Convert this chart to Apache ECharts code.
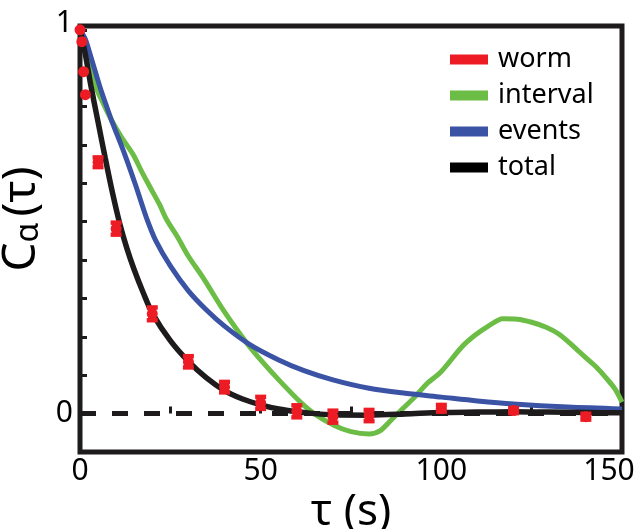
<!DOCTYPE html>
<html>
<head>
<meta charset="utf-8">
<script src="https://cdn.jsdelivr.net/npm/echarts@6/dist/echarts.min.js"></script>
<style>
html,body{margin:0;padding:0;background:#fff;}
#chart{width:638px;height:529px;}
</style>
</head>
<body>
<div id="chart"></div>
<script>
// ---- data ----
const wormT   = [0, 0.5, 1, 1.5, 5, 10, 20, 30, 40, 50, 60, 70, 80, 100, 120, 140];
const wormV   = [1.0, 0.969, 0.891, 0.831, 0.655, 0.482, 0.26, 0.135, 0.069, 0.028, 0.006, -0.008, -0.005, 0.014, 0.008, -0.008];
const wormErr = [0, 0, 0, 0, 0.012, 0.015, 0.016, 0.014, 0.013, 0.015, 0.015, 0.015, 0.014, 0.008, 0.006, 0.007];

const intervalT = [0, 1.5, 2.5, 4.2, 6.4, 8.7, 11.5, 14.7, 17, 19.4, 22, 24, 27, 30, 34, 40, 46.3, 50, 55.6, 61, 64.8, 70.4, 75, 80, 83, 86, 89, 92.6, 96, 100, 105.6, 109.3, 113, 117, 121, 125, 129, 132.4, 136, 139.8, 143, 145.4, 148, 150];
const intervalV = [1.0, 0.955, 0.92, 0.855, 0.809, 0.765, 0.72, 0.675, 0.632, 0.59, 0.545, 0.505, 0.46, 0.41, 0.355, 0.265, 0.182, 0.14, 0.082, 0.03, 0.0, -0.031, -0.047, -0.053, -0.045, -0.018, 0.01, 0.043, 0.078, 0.11, 0.173, 0.204, 0.228, 0.247, 0.246, 0.238, 0.225, 0.208, 0.18, 0.147, 0.12, 0.095, 0.065, 0.03];

const eventsT = [0, 1.5, 3, 5.5, 7.2, 8.7, 12.4, 15.4, 18.4, 21, 25, 30, 35, 40, 47, 55, 62, 70, 80, 90, 100, 110, 120, 135, 150];
const eventsV = [1.0, 0.975, 0.93, 0.852, 0.805, 0.765, 0.675, 0.595, 0.51, 0.45, 0.385, 0.32, 0.27, 0.228, 0.18, 0.14, 0.112, 0.088, 0.066, 0.053, 0.043, 0.033, 0.025, 0.017, 0.012];

const totalT = [0, 1.5, 3, 5, 7, 9, 11, 13, 15, 17.5, 20, 25, 30, 35, 40, 45, 50, 55, 60, 65, 70, 80, 90, 100, 110, 120, 130, 140, 150];
const totalV = [1.0, 0.935, 0.855, 0.76, 0.665, 0.575, 0.495, 0.43, 0.375, 0.315, 0.262, 0.19, 0.136, 0.093, 0.06, 0.038, 0.023, 0.012, 0.005, 0.0, -0.003, -0.004, -0.001, 0.003, 0.004, 0.005, 0.004, 0.003, 0.002];

const xTickLabels = [0, 50, 100, 150];
const yTickLabels = [0, 1];
// -------------

const FONT = 'Noto Sans';
const RED = '#ED1C24', GREEN = '#6BBD45', BLUE = '#3A53A4', BLACK = '#1E1B1C';

const pairs = (t, v) => t.map((x, i) => [x, v[i]]);

function renderWorm(params, api) {
  const x = api.value(0), v = api.value(1), e = api.value(2);
  const c = api.coord([x, v]);
  const color = api.visual('color');
  const children = [];
  if (e > 0) {
    const top = api.coord([x, v + e]);
    const bot = api.coord([x, v - e]);
    children.push({type: 'rect', shape: {x: c[0] - 4, y: top[1], width: 8, height: bot[1] - top[1]}, style: {fill: color}});
    children.push({type: 'rect', shape: {x: c[0] - 5.5, y: top[1] - 2.5, width: 11, height: 4.5}, style: {fill: color}});
    children.push({type: 'rect', shape: {x: c[0] - 5.5, y: bot[1] - 2, width: 11, height: 4.5}, style: {fill: color}});
  }
  children.push({type: 'circle', shape: {cx: c[0], cy: c[1], r: 5.5}, style: {fill: color}});
  return {type: 'group', children: children};
}

const chart = echarts.init(document.getElementById('chart'), null, {renderer: 'canvas'});
chart.setOption({
  animation: false,
  backgroundColor: '#fff',
  grid: {left: 80, right: 16, top: 26, bottom: 77, show: true, borderColor: BLACK, borderWidth: 5,
         backgroundColor: 'transparent', containLabel: false, outerBoundsMode: 'none'},
  legend: {
    orient: 'vertical', left: 445, top: 41,
    itemWidth: 38, itemHeight: 10, itemGap: 9,
    textStyle: {fontSize: 27, color: '#000', fontFamily: FONT, padding: [0, 0, 0, 5]},
    data: [
      {name: 'worm', icon: 'rect'},
      {name: 'interval', icon: 'rect'},
      {name: 'events', icon: 'rect'},
      {name: 'total', icon: 'rect'}
    ]
  },
  xAxis: {
    type: 'value', min: 0, max: 150, interval: 25,
    axisLine: {show: false},
    splitLine: {show: false},
    axisTick: {inside: true, length: 7, lineStyle: {width: 3, color: BLACK}},
    axisLabel: {
      fontSize: 30, color: '#000', fontFamily: FONT, margin: 4,
      formatter: v => {
        if (xTickLabels.indexOf(v) < 0) return '';
        return v === xTickLabels[xTickLabels.length - 1] ? '{last|' + v + '}' : String(v);
      },
      rich: {last: {fontSize: 30, color: '#000', fontFamily: FONT, padding: [0, 26, 0, 0]}}
    },
    name: 'τ (s)', nameLocation: 'middle', nameGap: 30,
    nameTextStyle: {fontSize: 44, color: '#000', fontFamily: FONT}
  },
  yAxis: {
    type: 'value', min: -0.1, max: 1.01, interval: 0.1,
    axisLine: {show: false},
    splitLine: {show: false},
    axisTick: {inside: true, length: 7, lineStyle: {width: 3, color: BLACK}},
    axisLabel: {
      fontSize: 30, color: '#000', fontFamily: FONT, margin: 7,
      formatter: v => {
        if (Math.abs(v - yTickLabels[1]) < 1e-6) return '{top|' + yTickLabels[1] + '}';
        if (Math.abs(v - yTickLabels[0]) < 1e-6) return String(yTickLabels[0]);
        return '';
      },
      rich: {top: {fontSize: 30, color: '#000', fontFamily: FONT, padding: [0, 0, 12, 0]}}
    },
    name: '{c|C}{a|α}{p|(τ)}', nameLocation: 'middle', nameGap: 8, nameRotate: 90,
    nameTextStyle: {
      color: '#000', fontFamily: FONT, padding: [0, 0, 0, 40],
      rich: {
        c: {fontSize: 46, fontFamily: FONT, color: '#000'},
        a: {fontSize: 32, fontFamily: FONT, color: '#000', verticalAlign: 'bottom', padding: [0, 6, 0, 0]},
        p: {fontSize: 46, fontFamily: FONT, color: '#000'}
      }
    }
  },
  series: [
    {
      name: 'interval', type: 'line', data: pairs(intervalT, intervalV),
      showSymbol: false, smooth: 0.3, color: GREEN,
      lineStyle: {width: 5, color: GREEN}, z: 2,
      markLine: {
        silent: true, symbol: 'none', label: {show: false},
        lineStyle: {color: BLACK, type: [16, 16], width: 5},
        data: [{yAxis: 0}]
      }
    },
    {
      name: 'events', type: 'line', data: pairs(eventsT, eventsV),
      showSymbol: false, smooth: 0.3, color: BLUE,
      lineStyle: {width: 5, color: BLUE}, z: 3
    },
    {
      name: 'total', type: 'line', data: pairs(totalT, totalV),
      showSymbol: false, smooth: 0.3, color: '#000',
      lineStyle: {width: 5.5, color: BLACK}, z: 4
    },
    {
      name: 'worm', type: 'custom', color: RED,
      data: wormT.map((t, i) => [t, wormV[i], wormErr[i]]),
      encode: {x: 0, y: 1},
      renderItem: renderWorm, clip: false, z: 5
    }
  ]
});
</script>
</body>
</html>
